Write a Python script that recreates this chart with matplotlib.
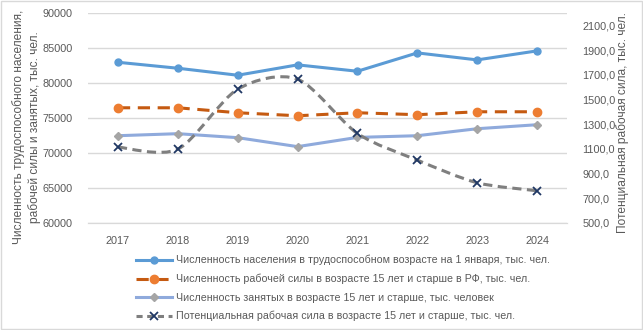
import numpy as np
import matplotlib.pyplot as plt
from matplotlib.path import Path
from matplotlib.patches import PathPatch, Rectangle
from matplotlib.lines import Line2D

plt.rcParams['font.family'] = ['Liberation Sans', 'DejaVu Sans']

years = ['2017', '2018', '2019', '2020', '2021', '2022', '2023', '2024']
# left axis, тыс. чел.
working_age = [82960, 82110, 81110, 82590, 81680, 84300, 83300, 84590]
labour_force = [76460, 76460, 75750, 75320, 75750, 75470, 75890, 75890]
employed = [72470, 72760, 72190, 70910, 72230, 72470, 73470, 74040]
# right axis, тыс. чел.
potential = [1114, 1098, 1583, 1664, 1225, 1009, 826, 761]

lab1 = 'Численность населения в трудоспособном возрасте на 1 января, тыс. чел.'
lab2 = 'Численность рабочей силы в возрасте 15 лет и старше в РФ, тыс. чел.'
lab3 = 'Численность занятых в возрасте 15 лет и старше, тыс. человек'
lab4 = 'Потенциальная рабочая сила в возрасте 15 лет и старше, тыс. чел.'

txt = '#595959'
grid = '#D9D9D9'

fig = plt.figure(figsize=(6.43, 3.30), dpi=100)
fig.patches.append(Rectangle((0.001, 0.002), 0.997, 0.995, transform=fig.transFigure,
                             fill=False, edgecolor=grid, linewidth=1))
ax = fig.add_axes([88 / 643, 1 - 223 / 330, (567 - 88) / 643, (223 - 13) / 330])
ax2 = ax.twinx()

x = np.arange(len(years))

ax.plot(x, working_age, color='#5B9BD5', lw=2.2, marker='o', ms=5,
        markerfacecolor='#5B9BD5', markeredgecolor='#5B9BD5', zorder=3)
ax.plot(x, labour_force, color='#C55A11', lw=2.2, ls=(0, (4, 2.5)), marker='o', ms=6,
        markerfacecolor='#ED7D31', markeredgecolor='#ED7D31', zorder=3)
ax.plot(x, employed, color='#8FAADC', lw=2.2, marker='D', ms=4,
        markerfacecolor='#A5A5A5', markeredgecolor='#A5A5A5', zorder=3)

# smoothed line like in Excel (bezier through the points)
pts = np.column_stack([x, potential]).astype(float)
verts = [pts[0]]
codes = [Path.MOVETO]
for i in range(len(pts) - 1):
    p0 = pts[max(i - 1, 0)]
    p1 = pts[i]
    p2 = pts[i + 1]
    p3 = pts[min(i + 2, len(pts) - 1)]
    c1 = p1 + (p2 - p0) / 7
    c2 = p2 - (p3 - p1) / 7
    verts += [c1, c2, p2]
    codes += [Path.CURVE4] * 3
ax2.add_patch(PathPatch(Path(verts, codes), fill=False, edgecolor='#7F7F7F',
                        lw=2.2, ls=(0, (3, 1.8)), zorder=2))
ax2.plot(x, potential, ls='none', marker='x', ms=6, mew=1.3, color='#203864', zorder=3)

ax.set_xlim(-0.5, 7.5)
ax.set_ylim(60000, 90000)
ax.set_yticks(np.arange(60000, 90001, 5000))
ax.set_xticks(x)
ax.set_xticklabels(years)
ax2.set_ylim(500, 2200)
ax2.set_yticks(np.arange(500, 2101, 200))
ax2.yaxis.set_major_formatter(plt.FuncFormatter(lambda v, p: ('%.1f' % v).replace('.', ',')))

ax.grid(axis='y', color=grid, lw=1)
ax.set_axisbelow(True)
for a in (ax, ax2):
    for s in ('top', 'left', 'right'):
        a.spines[s].set_visible(False)
    a.spines['bottom'].set_color(grid)
    a.tick_params(length=0, labelsize=7.8, colors=txt)
ax.tick_params(axis='x', pad=9)
ax.tick_params(axis='y', pad=11)
ax2.tick_params(axis='y', pad=11)

fig.text(26.5 / 643, 1 - 127 / 330,
         'Численность трудоспособного населения,\nрабочей силы и занятых, тыс. чел.',
         rotation=90, ha='center', va='center', fontsize=8.6, color=txt, linespacing=1.35)
fig.text(623 / 643, 1 - 123 / 330, 'Потенциальная рабочая сила, тыс. чел.',
         rotation=90, ha='center', va='center', fontsize=8.6, color=txt)

handles = [
    Line2D([], [], color='#5B9BD5', lw=2.2, marker='o', ms=5),
    Line2D([], [], color='#C55A11', lw=2.2, ls=(0, (4, 2.5)), marker='o', ms=6,
           markerfacecolor='#ED7D31', markeredgecolor='#ED7D31'),
    Line2D([], [], color='#8FAADC', lw=2.2, marker='D', ms=4,
           markerfacecolor='#A5A5A5', markeredgecolor='#A5A5A5'),
    Line2D([], [], color='#7F7F7F', lw=2.2, ls=(0, (2, 1.5)), marker='x', ms=6, mew=1.3,
           markeredgecolor='#203864'),
]
fig.legend(handles, [lab1, lab2, lab3, lab4], loc='upper left',
           bbox_to_anchor=(136 / 643, 1 - 255 / 330), frameon=False, fontsize=7.7,
           labelcolor=txt, handlelength=3.4, handletextpad=0.3, labelspacing=0.78,
           borderpad=0, borderaxespad=0)

fig.savefig('out.png', dpi=100)
